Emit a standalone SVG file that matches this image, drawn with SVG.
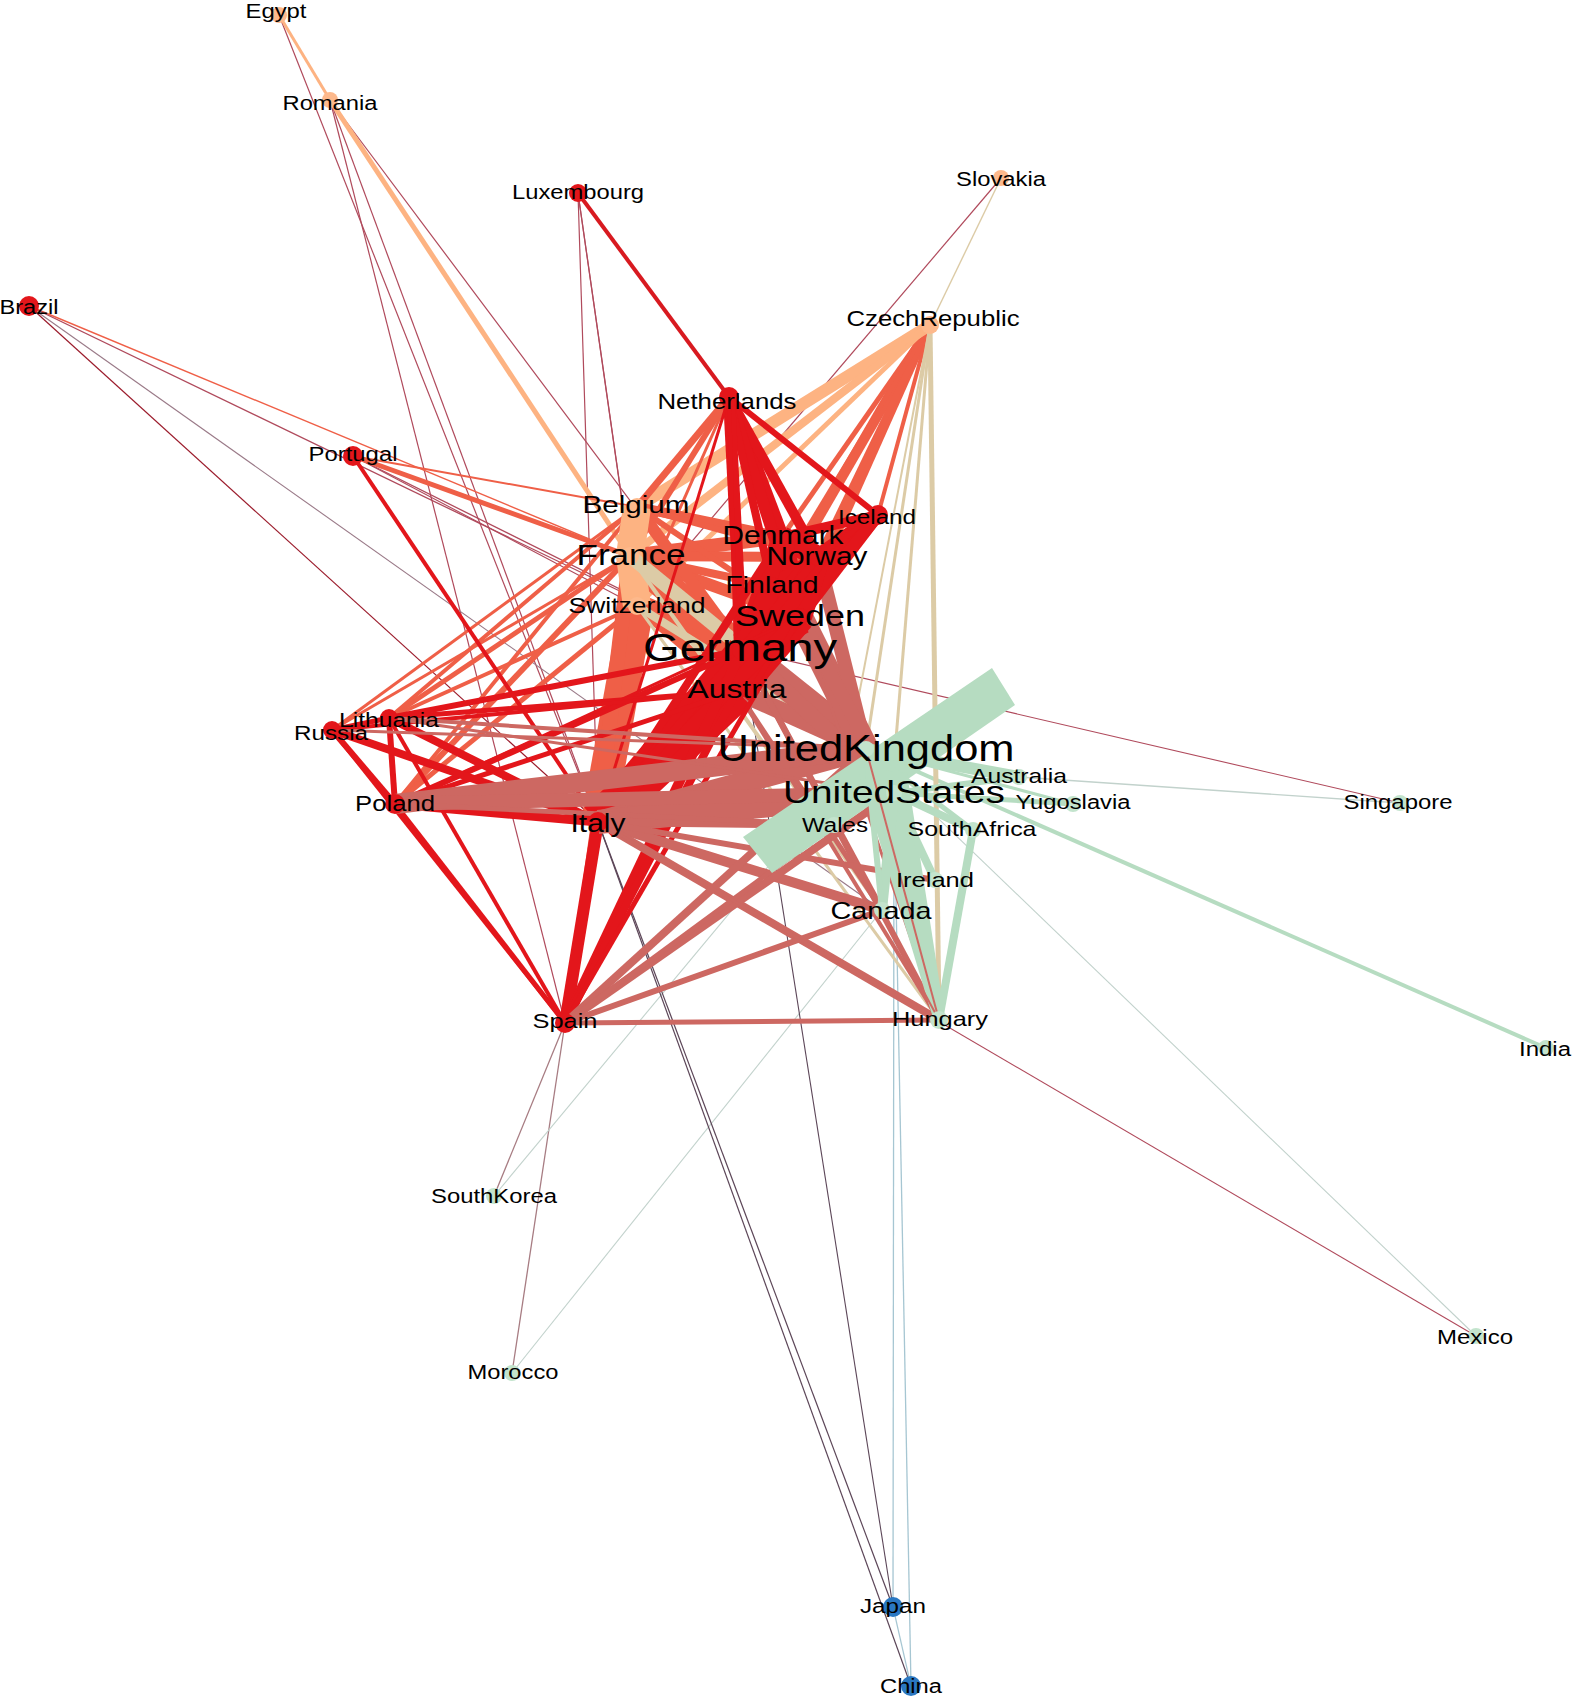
<svg xmlns="http://www.w3.org/2000/svg" width="1575" height="1700" viewBox="0 0 1575 1700">
<style>
line{stroke-linecap:butt;fill:none}
.rr{stroke:#e3161b}
.ro{stroke:#ef5f47}
.oo{stroke:#fdb382}
.og{stroke:#dccba6}
.rg{stroke:#cd6862}
.gg{stroke:#b6dcc1}
.gb{stroke:#a6c6d2}
.rb{stroke:#5c4658}
.th{stroke:#b04a5c}
.tg{stroke:#c2d2cc}
.nr{fill:#e3161b}
.no{fill:#fdb98c}
.ng{fill:#c3e4cd}
.nb{fill:#2a78c2}
text{font-family:"Liberation Sans",Arial,sans-serif;fill:#000;text-anchor:middle}
</style>
<rect width="1575" height="1700" fill="#fff"/>
<g id="connectors">
<!-- thin long lines -->
<line class="th" stroke-width="1.2" x1="279" y1="15" x2="598" y2="822"/>
<line class="th" stroke-width="1.2" x1="330" y1="100" x2="598" y2="822"/>
<line class="th" stroke-width="1.2" x1="330" y1="100" x2="742" y2="650"/>
<line class="th" stroke-width="1.2" x1="330" y1="100" x2="565" y2="1023"/>
<line class="th" stroke-width="1.2" x1="578" y1="193" x2="630" y2="556"/>
<line class="th" stroke-width="1.2" x1="578" y1="193" x2="637" y2="606"/>
<line class="th" stroke-width="1.2" x1="578" y1="193" x2="598" y2="822"/>
<line class="th" stroke-width="1.2" x1="1001" y1="178" x2="637" y2="606"/>
<line class="og" stroke-width="1.4" x1="1001" y1="178" x2="930" y2="325"/>
<line class="ro" stroke-width="1.4" x1="29" y1="306" x2="630" y2="556"/>
<line class="th" stroke-width="1.3" x1="29" y1="306" x2="742" y2="650"/>
<line stroke="#9a7a88" stroke-width="1.1" x1="29" y1="306" x2="882" y2="910"/>
<line stroke="#9b1b2b" stroke-width="1.2" x1="29" y1="306" x2="598" y2="822"/>
<line class="th" stroke-width="1.3" x1="353" y1="456" x2="742" y2="650"/>
<line class="th" stroke-width="1.1" x1="353" y1="456" x2="637" y2="606"/>
<line class="th" stroke-width="1.1" x1="930" y1="325" x2="637" y2="507"/>
<line class="th" stroke-width="1.1" x1="332" y1="730" x2="742" y2="650"/>
<line class="th" stroke-width="1.1" x1="395" y1="804" x2="565" y2="1023"/>
<line class="th" stroke-width="1.1" x1="742" y1="650" x2="1400" y2="803"/>
<line class="th" stroke-width="1.1" x1="598" y1="822" x2="1476" y2="1336"/>
<line stroke="#a77c82" stroke-width="1.3" x1="565" y1="1023" x2="494" y2="1196"/>
<line stroke="#a77c82" stroke-width="1.3" x1="565" y1="1023" x2="512" y2="1373"/>
<line class="tg" stroke-width="1.1" x1="866" y1="749" x2="494" y2="1196"/>
<line class="tg" stroke-width="1.1" x1="882" y1="910" x2="512" y2="1373"/>
<line class="tg" stroke-width="1.1" x1="866" y1="749" x2="1476" y2="1336"/>
<line class="tg" stroke-width="1.3" x1="1019" y1="777" x2="1400" y2="803"/>
<line class="rb" stroke-width="1.2" x1="598" y1="822" x2="893" y2="1607"/>
<line class="rb" stroke-width="1.2" x1="598" y1="822" x2="911" y2="1686"/>
<line class="rb" stroke-width="1.1" x1="742" y1="650" x2="893" y2="1607"/>
<line class="gb" stroke-width="1.3" x1="894" y1="793" x2="893" y2="1607"/>
<line class="gb" stroke-width="1.3" x1="894" y1="793" x2="911" y2="1686"/>
<line class="gb" stroke-width="1.2" x1="893" y1="1607" x2="911" y2="1686"/>
<line class="gg" stroke-width="4" x1="866" y1="749" x2="1546" y2="1048"/>
<!-- orange / salmon -->
<line class="oo" stroke-width="3" x1="279" y1="15" x2="330" y2="100"/>
<line class="oo" stroke-width="5" x1="330" y1="100" x2="630" y2="556"/>
<line stroke="#d81a20" stroke-width="4" x1="578" y1="193" x2="729" y2="397"/>
<line class="ro" stroke-width="5" x1="353" y1="456" x2="630" y2="556"/>
<line class="ro" stroke-width="2" x1="353" y1="456" x2="637" y2="507"/>
<line class="ro" stroke-width="5" x1="389" y1="718" x2="630" y2="556"/>
<line class="ro" stroke-width="4" x1="389" y1="718" x2="637" y2="507"/>
<line class="ro" stroke-width="4" x1="389" y1="718" x2="637" y2="606"/>
<line class="ro" stroke-width="6" x1="395" y1="804" x2="630" y2="556"/>
<line class="ro" stroke-width="5" x1="395" y1="804" x2="637" y2="606"/>
<line class="ro" stroke-width="4" x1="395" y1="804" x2="637" y2="507"/>
<line class="ro" stroke-width="3" x1="332" y1="730" x2="637" y2="507"/>
<line class="ro" stroke-width="3" x1="332" y1="730" x2="630" y2="556"/>
<line class="ro" stroke-width="4" x1="565" y1="1023" x2="637" y2="606"/>
<line class="ro" stroke-width="4" x1="565" y1="1023" x2="630" y2="556"/>
<line class="ro" stroke-width="10" x1="930" y1="325" x2="742" y2="650"/>
<line class="ro" stroke-width="8" x1="930" y1="325" x2="800" y2="617"/>
<line class="ro" stroke-width="5" x1="930" y1="325" x2="782" y2="537"/>
<line class="ro" stroke-width="6" x1="930" y1="325" x2="818" y2="557"/>
<line class="ro" stroke-width="4" x1="930" y1="325" x2="878" y2="515"/>
<line class="ro" stroke-width="4" x1="930" y1="325" x2="772" y2="586"/>
<line class="oo" stroke-width="12" x1="930" y1="325" x2="637" y2="507"/>
<line class="oo" stroke-width="8" x1="930" y1="325" x2="630" y2="556"/>
<line class="oo" stroke-width="5" x1="930" y1="325" x2="637" y2="606"/>
<line class="ro" stroke-width="7" x1="729" y1="397" x2="637" y2="507"/>
<line class="ro" stroke-width="6" x1="729" y1="397" x2="630" y2="556"/>
<line class="ro" stroke-width="3" x1="729" y1="397" x2="637" y2="606"/>
<line class="ro" stroke-width="30" x1="630" y1="556" x2="742" y2="650"/>
<line class="ro" stroke-width="25" x1="637" y1="606" x2="742" y2="650"/>
<line class="ro" stroke-width="34" x1="637" y1="606" x2="598" y2="822"/>
<line class="ro" stroke-width="15" x1="630" y1="556" x2="598" y2="822"/>
<line class="ro" stroke-width="14" x1="630" y1="556" x2="782" y2="537"/>
<line class="ro" stroke-width="10" x1="630" y1="556" x2="818" y2="557"/>
<line class="ro" stroke-width="12" x1="630" y1="556" x2="800" y2="617"/>
<line class="ro" stroke-width="8" x1="630" y1="556" x2="772" y2="586"/>
<line class="ro" stroke-width="10" x1="637" y1="507" x2="782" y2="537"/>
<line class="ro" stroke-width="12" x1="637" y1="507" x2="742" y2="650"/>
<line class="ro" stroke-width="6" x1="637" y1="507" x2="800" y2="617"/>
<line class="ro" stroke-width="6" x1="637" y1="507" x2="818" y2="557"/>
<line class="ro" stroke-width="10" x1="637" y1="606" x2="737" y2="691"/>
<line class="ro" stroke-width="8" x1="630" y1="556" x2="737" y2="691"/>
<line class="oo" stroke-width="28" x1="630" y1="556" x2="637" y2="507"/>
<line class="oo" stroke-width="28" x1="630" y1="556" x2="637" y2="606"/>
<line class="oo" stroke-width="10" x1="637" y1="507" x2="637" y2="606"/>
<!-- tan -->
<line class="og" stroke-width="14" x1="630" y1="556" x2="866" y2="749"/>
<line class="og" stroke-width="8" x1="637" y1="606" x2="866" y2="749"/>
<line class="og" stroke-width="3" x1="930" y1="325" x2="866" y2="749"/>
<line class="og" stroke-width="3" x1="930" y1="325" x2="882" y2="910"/>
<line class="og" stroke-width="5" x1="930" y1="325" x2="939" y2="1020"/>
<line class="og" stroke-width="2" x1="930" y1="325" x2="834" y2="825"/>
<line class="og" stroke-width="4" x1="630" y1="556" x2="882" y2="910"/>
<line class="og" stroke-width="3" x1="637" y1="606" x2="939" y2="1020"/>
<!-- rose from north/central -->
<line class="rg" stroke-width="28" x1="742" y1="650" x2="866" y2="749"/>
<line class="rg" stroke-width="18" x1="737" y1="691" x2="866" y2="749"/>
<line class="rg" stroke-width="16" x1="742" y1="650" x2="894" y2="793"/>
<line class="rg" stroke-width="26" x1="800" y1="617" x2="866" y2="749"/>
<line class="rg" stroke-width="14" x1="818" y1="557" x2="866" y2="749"/>
<line class="rg" stroke-width="14" x1="800" y1="617" x2="894" y2="793"/>
<line class="rg" stroke-width="6" x1="742" y1="650" x2="882" y2="910"/>
<line class="rg" stroke-width="6" x1="742" y1="650" x2="939" y2="1020"/>
<line class="rg" stroke-width="4" x1="737" y1="691" x2="939" y2="1020"/>
<line class="rg" stroke-width="5" x1="737" y1="691" x2="882" y2="910"/>
<line class="rg" stroke-width="3" x1="800" y1="617" x2="939" y2="1020"/>
<!-- red -->
<line class="rr" stroke-width="4" x1="353" y1="456" x2="598" y2="822"/>
<line class="rr" stroke-width="14" x1="729" y1="397" x2="782" y2="537"/>
<line class="rr" stroke-width="10" x1="729" y1="397" x2="818" y2="557"/>
<line class="rr" stroke-width="12" x1="729" y1="397" x2="800" y2="617"/>
<line class="rr" stroke-width="8" x1="729" y1="397" x2="772" y2="586"/>
<line class="rr" stroke-width="12" x1="729" y1="397" x2="742" y2="650"/>
<line class="rr" stroke-width="6" x1="729" y1="397" x2="878" y2="515"/>
<line class="rr" stroke-width="4" x1="729" y1="397" x2="737" y2="691"/>
<line class="rr" stroke-width="3" x1="729" y1="397" x2="598" y2="822"/>
<line class="rr" stroke-width="10" x1="878" y1="515" x2="782" y2="537"/>
<line class="rr" stroke-width="16" x1="878" y1="515" x2="818" y2="557"/>
<line class="rr" stroke-width="12" x1="878" y1="515" x2="800" y2="617"/>
<line class="rr" stroke-width="6" x1="878" y1="515" x2="772" y2="586"/>
<line class="rr" stroke-width="8" x1="878" y1="515" x2="742" y2="650"/>
<line class="rr" stroke-width="12" x1="878" y1="515" x2="737" y2="691"/>
<line class="rr" stroke-width="22" x1="782" y1="537" x2="818" y2="557"/>
<line class="rr" stroke-width="20" x1="782" y1="537" x2="800" y2="617"/>
<line class="rr" stroke-width="24" x1="818" y1="557" x2="800" y2="617"/>
<line class="rr" stroke-width="20" x1="772" y1="586" x2="800" y2="617"/>
<line class="rr" stroke-width="14" x1="782" y1="537" x2="772" y2="586"/>
<line class="rr" stroke-width="14" x1="818" y1="557" x2="772" y2="586"/>
<line class="rr" stroke-width="35" x1="742" y1="650" x2="800" y2="617"/>
<line class="rr" stroke-width="22" x1="742" y1="650" x2="818" y2="557"/>
<line class="rr" stroke-width="20" x1="742" y1="650" x2="782" y2="537"/>
<line class="rr" stroke-width="20" x1="742" y1="650" x2="772" y2="586"/>
<line class="rr" stroke-width="35" x1="742" y1="650" x2="737" y2="691"/>
<line class="rr" stroke-width="30" x1="737" y1="691" x2="800" y2="617"/>
<line class="rr" stroke-width="18" x1="737" y1="691" x2="818" y2="557"/>
<line class="rr" stroke-width="30" x1="598" y1="822" x2="742" y2="650"/>
<line class="rr" stroke-width="40" x1="598" y1="822" x2="737" y2="691"/>
<line class="rr" stroke-width="14" x1="598" y1="822" x2="800" y2="617"/>
<line class="rr" stroke-width="8" x1="598" y1="822" x2="818" y2="557"/>
<line class="rr" stroke-width="8" x1="598" y1="822" x2="782" y2="537"/>
<line class="rr" stroke-width="12" x1="565" y1="1023" x2="598" y2="822"/>
<line class="rr" stroke-width="10" x1="565" y1="1023" x2="742" y2="650"/>
<line class="rr" stroke-width="8" x1="565" y1="1023" x2="737" y2="691"/>
<line class="rr" stroke-width="5" x1="565" y1="1023" x2="800" y2="617"/>
<line class="rr" stroke-width="5" x1="565" y1="1023" x2="395" y2="804"/>
<line class="rr" stroke-width="4" x1="565" y1="1023" x2="332" y2="730"/>
<line class="rr" stroke-width="4" x1="565" y1="1023" x2="389" y2="718"/>
<line class="rr" stroke-width="9" x1="395" y1="804" x2="598" y2="822"/>
<line class="rr" stroke-width="6" x1="395" y1="804" x2="742" y2="650"/>
<line class="rr" stroke-width="5" x1="395" y1="804" x2="737" y2="691"/>
<line class="rr" stroke-width="6" x1="395" y1="804" x2="389" y2="718"/>
<line class="rr" stroke-width="6" x1="395" y1="804" x2="332" y2="730"/>
<line class="rr" stroke-width="3" x1="395" y1="804" x2="800" y2="617"/>
<line class="rr" stroke-width="8" x1="389" y1="718" x2="598" y2="822"/>
<line class="rr" stroke-width="6" x1="389" y1="718" x2="742" y2="650"/>
<line class="rr" stroke-width="5" x1="389" y1="718" x2="737" y2="691"/>
<line class="rr" stroke-width="5" x1="389" y1="718" x2="332" y2="730"/>
<line class="rr" stroke-width="8" x1="332" y1="730" x2="598" y2="822"/>
<line class="rr" stroke-width="4" x1="332" y1="730" x2="737" y2="691"/>
<!-- rose from south/west -->
<line class="rg" stroke-width="22" x1="598" y1="822" x2="866" y2="749"/>
<line class="rg" stroke-width="24" x1="598" y1="822" x2="894" y2="793"/>
<line class="rg" stroke-width="8" x1="598" y1="822" x2="834" y2="825"/>
<line class="rg" stroke-width="10" x1="598" y1="822" x2="882" y2="910"/>
<line class="rg" stroke-width="8" x1="598" y1="822" x2="939" y2="1020"/>
<line class="rg" stroke-width="6" x1="598" y1="822" x2="935" y2="880"/>
<line class="rg" stroke-width="20" x1="395" y1="804" x2="866" y2="749"/>
<line class="rg" stroke-width="14" x1="395" y1="804" x2="894" y2="793"/>
<line class="rg" stroke-width="5" x1="395" y1="804" x2="834" y2="825"/>
<line class="rg" stroke-width="4" x1="389" y1="718" x2="866" y2="749"/>
<line class="rg" stroke-width="3" x1="389" y1="718" x2="894" y2="793"/>
<line class="rg" stroke-width="3" x1="332" y1="730" x2="866" y2="749"/>
<line class="rg" stroke-width="8" x1="565" y1="1023" x2="866" y2="749"/>
<line class="rg" stroke-width="8" x1="565" y1="1023" x2="894" y2="793"/>
<line class="rg" stroke-width="6" x1="565" y1="1023" x2="882" y2="910"/>
<line class="rg" stroke-width="5" x1="565" y1="1023" x2="939" y2="1020"/>
<line class="rg" stroke-width="5" x1="565" y1="1023" x2="834" y2="825"/>
<!-- green -->
<polygon fill="#b6dcc1" points="743,837 772,873 1015,705 992,668"/>
<polygon fill="#b6dcc1" points="857,767 907,773 945,1018 933,1018"/>
<line class="gg" stroke-width="12" x1="866" y1="749" x2="1019" y2="777"/>
<line class="gg" stroke-width="6" x1="894" y1="793" x2="1019" y2="777"/>
<line class="gg" stroke-width="5" x1="894" y1="793" x2="1073" y2="804"/>
<line class="gg" stroke-width="3" x1="866" y1="749" x2="1073" y2="804"/>
<line class="gg" stroke-width="8" x1="894" y1="793" x2="973" y2="830"/>
<line class="gg" stroke-width="5" x1="866" y1="749" x2="973" y2="830"/>
<line class="gg" stroke-width="8" x1="973" y1="830" x2="939" y2="1020"/>
<line class="gg" stroke-width="8" x1="894" y1="793" x2="935" y2="880"/>
<line class="gg" stroke-width="10" x1="894" y1="793" x2="882" y2="910"/>
<line class="gg" stroke-width="6" x1="866" y1="749" x2="882" y2="910"/>
<line class="gg" stroke-width="10" x1="866" y1="749" x2="894" y2="793"/>
<line class="rg" stroke-width="3" x1="598" y1="822" x2="939" y2="1020"/>
<line class="rg" stroke-width="2" x1="834" y1="825" x2="939" y2="1020"/>
<line class="rg" stroke-width="2" x1="866" y1="749" x2="939" y2="1020"/>
</g>
<g id="nodes">
<g id="n-egypt"><circle class="no" cx="279" cy="15" r="8"/><text x="276" y="18" font-size="20" textLength="61" lengthAdjust="spacingAndGlyphs">Egypt</text></g>
<g id="n-romania"><circle class="no" cx="330" cy="100" r="8"/><text x="330" y="110" font-size="20" textLength="95" lengthAdjust="spacingAndGlyphs">Romania</text></g>
<g id="n-luxembourg"><circle class="nr" cx="578" cy="193" r="9"/><text x="578" y="199" font-size="20" textLength="132" lengthAdjust="spacingAndGlyphs">Luxembourg</text></g>
<g id="n-slovakia"><circle class="no" cx="1001" cy="178" r="8"/><text x="1001" y="186" font-size="20" textLength="90" lengthAdjust="spacingAndGlyphs">Slovakia</text></g>
<g id="n-brazil"><circle class="nr" cx="29" cy="306" r="10"/><text x="29" y="314" font-size="20" textLength="59" lengthAdjust="spacingAndGlyphs">Brazil</text></g>
<g id="n-czech"><circle class="no" cx="930" cy="325" r="9"/><text x="933" y="326" font-size="21.5" textLength="173" lengthAdjust="spacingAndGlyphs">CzechRepublic</text></g>
<g id="n-netherlands"><circle class="nr" cx="729" cy="397" r="10"/><text x="727" y="409" font-size="21.5" textLength="139" lengthAdjust="spacingAndGlyphs">Netherlands</text></g>
<g id="n-portugal"><circle class="nr" cx="353" cy="456" r="10"/><text x="353" y="461" font-size="20" textLength="89" lengthAdjust="spacingAndGlyphs">Portugal</text></g>
<g id="n-belgium"><circle class="no" cx="637" cy="507" r="9"/><text x="636" y="513" font-size="24.7" textLength="107" lengthAdjust="spacingAndGlyphs">Belgium</text></g>
<g id="n-iceland"><circle class="nr" cx="878" cy="515" r="10"/><text x="877" y="524" font-size="20" textLength="78" lengthAdjust="spacingAndGlyphs">Iceland</text></g>
<g id="n-france"><circle class="no" cx="630" cy="556" r="9"/><text x="631" y="565" font-size="29" textLength="109" lengthAdjust="spacingAndGlyphs">France</text></g>
<g id="n-switzerland"><circle class="no" cx="637" cy="606" r="9"/><text x="637" y="613" font-size="22" textLength="137" lengthAdjust="spacingAndGlyphs">Switzerland</text></g>
<g id="n-denmark"><circle class="nr" cx="782" cy="537" r="9"/><text x="783" y="544" font-size="25" textLength="121" lengthAdjust="spacingAndGlyphs">Denmark</text></g>
<g id="n-norway"><circle class="nr" cx="818" cy="557" r="9"/><text x="817" y="565" font-size="25" textLength="101" lengthAdjust="spacingAndGlyphs">Norway</text></g>
<g id="n-finland"><circle class="nr" cx="772" cy="586" r="9"/><text x="772" y="593" font-size="23.7" textLength="93" lengthAdjust="spacingAndGlyphs">Finland</text></g>
<g id="n-sweden"><circle class="nr" cx="800" cy="617" r="9"/><text x="800" y="626" font-size="30" textLength="130" lengthAdjust="spacingAndGlyphs">Sweden</text></g>
<g id="n-germany"><circle class="nr" cx="742" cy="650" r="10"/><text x="740" y="661" font-size="39" textLength="194" lengthAdjust="spacingAndGlyphs">Germany</text></g>
<g id="n-austria"><circle class="nr" cx="737" cy="691" r="9"/><text x="737" y="698" font-size="26.5" textLength="99" lengthAdjust="spacingAndGlyphs">Austria</text></g>
<g id="n-lithuania"><circle class="nr" cx="389" cy="718" r="9"/><text x="389" y="727" font-size="20.5" textLength="100" lengthAdjust="spacingAndGlyphs">Lithuania</text></g>
<g id="n-russia"><circle class="nr" cx="332" cy="730" r="9"/><text x="331" y="740" font-size="20" textLength="74" lengthAdjust="spacingAndGlyphs">Russia</text></g>
<g id="n-uk"><circle class="ng" cx="866" cy="749" r="8"/><text x="866" y="761" font-size="36" textLength="297" lengthAdjust="spacingAndGlyphs">UnitedKingdom</text></g>
<g id="n-australia"><circle class="ng" cx="1019" cy="777" r="8"/><text x="1019" y="783" font-size="20.7" textLength="96" lengthAdjust="spacingAndGlyphs">Australia</text></g>
<g id="n-us"><circle class="ng" cx="894" cy="793" r="8"/><text x="894" y="803" font-size="32" textLength="222" lengthAdjust="spacingAndGlyphs">UnitedStates</text></g>
<g id="n-yugoslavia"><circle class="ng" cx="1073" cy="804" r="8"/><text x="1073" y="809" font-size="19.6" textLength="115" lengthAdjust="spacingAndGlyphs">Yugoslavia</text></g>
<g id="n-singapore"><circle class="ng" cx="1400" cy="803" r="8"/><text x="1398" y="809" font-size="20" textLength="109" lengthAdjust="spacingAndGlyphs">Singapore</text></g>
<g id="n-poland"><circle class="nr" cx="395" cy="804" r="10"/><text x="395" y="811" font-size="21.5" textLength="80" lengthAdjust="spacingAndGlyphs">Poland</text></g>
<g id="n-italy"><circle class="nr" cx="598" cy="822" r="10"/><text x="598" y="832" font-size="25" textLength="55" lengthAdjust="spacingAndGlyphs">Italy</text></g>
<g id="n-wales"><circle class="ng" cx="834" cy="825" r="8"/><text x="835" y="832" font-size="20" textLength="66" lengthAdjust="spacingAndGlyphs">Wales</text></g>
<g id="n-southafrica"><circle class="ng" cx="973" cy="830" r="8"/><text x="972" y="836" font-size="21" textLength="129" lengthAdjust="spacingAndGlyphs">SouthAfrica</text></g>
<g id="n-ireland"><circle class="ng" cx="935" cy="880" r="8"/><text x="935" y="887" font-size="21" textLength="78" lengthAdjust="spacingAndGlyphs">Ireland</text></g>
<g id="n-canada"><circle class="ng" cx="882" cy="910" r="8"/><text x="881" y="919" font-size="24" textLength="101" lengthAdjust="spacingAndGlyphs">Canada</text></g>
<g id="n-spain"><circle class="nr" cx="565" cy="1023" r="10"/><text x="565" y="1028" font-size="21" textLength="65" lengthAdjust="spacingAndGlyphs">Spain</text></g>
<g id="n-hungary"><circle class="ng" cx="939" cy="1020" r="9"/><text x="940" y="1026" font-size="21" textLength="96" lengthAdjust="spacingAndGlyphs">Hungary</text></g>
<g id="n-india"><circle class="ng" cx="1546" cy="1048" r="8"/><text x="1545" y="1056" font-size="20" textLength="52" lengthAdjust="spacingAndGlyphs">India</text></g>
<g id="n-southkorea"><circle class="ng" cx="494" cy="1196" r="8"/><text x="494" y="1203" font-size="20" textLength="126" lengthAdjust="spacingAndGlyphs">SouthKorea</text></g>
<g id="n-mexico"><circle class="ng" cx="1476" cy="1336" r="8"/><text x="1475" y="1344" font-size="20" textLength="76" lengthAdjust="spacingAndGlyphs">Mexico</text></g>
<g id="n-morocco"><circle class="ng" cx="512" cy="1373" r="8"/><text x="513" y="1379" font-size="20" textLength="91" lengthAdjust="spacingAndGlyphs">Morocco</text></g>
<g id="n-japan"><circle class="nb" cx="893" cy="1607" r="10"/><text x="893" y="1613" font-size="20" textLength="66" lengthAdjust="spacingAndGlyphs">Japan</text></g>
<g id="n-china"><circle class="nb" cx="911" cy="1686" r="10"/><text x="911" y="1693" font-size="20" textLength="62" lengthAdjust="spacingAndGlyphs">China</text></g>
</g>
</svg>
